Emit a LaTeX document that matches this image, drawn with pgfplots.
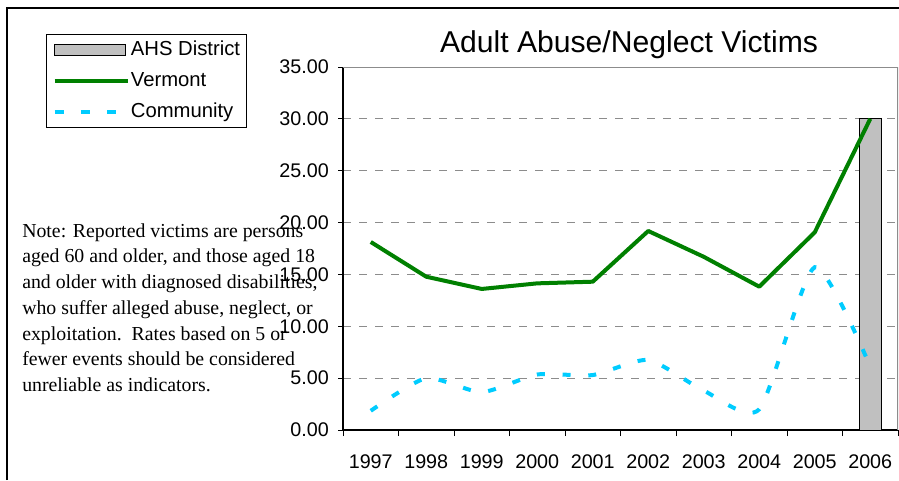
\documentclass[border=0pt]{standalone}
\usepackage{pgfplots}
\pgfplotsset{compat=1.18}
\usepackage{fontspec}
\setmainfont{Liberation Sans}
\newfontfamily\notefont{Liberation Serif}
\definecolor{vtgreen}{RGB}{0,128,0}
\definecolor{commcyan}{RGB}{0,204,255}
\definecolor{barsilver}{RGB}{192,192,192}
\definecolor{gridgray}{RGB}{140,140,140}
\begin{document}
\begin{tikzpicture}[x=0.75pt,y=0.75pt]
\useasboundingbox (0,0) rectangle (899,480);
\draw[line width=1.1pt] (7,0) -- (7,472) -- (899,472);
\begin{axis}[
  at={(257.25pt,37.5pt)}, anchor=south west,
  scale only axis, width=416.25pt, height=272.25pt,
  xmin=-0.5, xmax=9.5, ymin=0, ymax=35,
  axis x line*=bottom, axis y line*=left,
  axis line style={-, line width=1pt, black},
  xtick={0,...,9},
  xticklabels={1997,1998,1999,2000,2001,2002,2003,2004,2005,2006},
  minor xtick={-0.5,0.5,1.5,2.5,3.5,4.5,5.5,6.5,7.5,8.5,9.5},
  major x tick style={draw=none},
  minor x tick style={black, line width=0.75pt},
  minor tick length=4.5pt,
  major tick length=3.75pt,
  tick align=outside,
  ytick={0,5,...,35},
  y tick style={black, line width=0.75pt},
  ymajorgrids,
  major grid style={gridgray, line width=0.75pt, dash pattern=on 6pt off 6pt},
  /pgf/number format/assume math mode=true,
  y tick label style={/pgf/number format/fixed, /pgf/number format/fixed zerofill, /pgf/number format/precision=2, inner sep=0pt, xshift=-6.75pt},
  x tick label style={inner sep=0pt, anchor=north, yshift=-14.25pt},
  tick label style={font=\fontsize{14.8}{17}\selectfont},
  legend style={at={(axis description cs:-0.535,1.0909)}, anchor=north west,
    draw=black, line width=0.75pt, fill=white, inner xsep=4.5pt, inner ysep=5pt,
    font=\fontsize{15.2}{17}\selectfont, row sep=9.75pt,
    nodes={inner sep=0pt, text height=10.5pt, text depth=3pt},
    /tikz/every odd column/.append style={column sep=0.75pt}},
  legend cell align=left,
]
\addplot[ybar, bar width=0.4, bar shift=0pt, fill=barsilver, draw=black, line width=0.75pt,
  legend image code/.code={\draw[black, fill=barsilver, line width=0.75pt] (0pt,-4pt) rectangle (53pt,4pt);}]
  coordinates {(9,30.0)};
\addlegendentry{AHS District}
\addplot[vtgreen, line width=3pt, line join=round, mark=none,
  legend image code/.code={\draw[vtgreen, line width=3pt] (0pt,0pt) -- (55pt,0pt);}]
  coordinates {(0,18.13) (1,14.78) (2,13.6) (3,14.14) (4,14.3) (5,19.19) (6,16.7) (7,13.82) (8,19.06) (9,30.0)};
\addlegendentry{Vermont}
\addplot[commcyan, line width=3pt, smooth, tension=0.38, mark=none, dash pattern=on 6pt off 13.3pt,
  legend image code/.code={\draw[commcyan, line width=3pt, dash pattern=on 6.75pt off 13pt] (0pt,0pt) -- (55pt,0pt);}]
  coordinates {(0,1.85) (1,5.0) (2,3.65) (3,5.35) (4,5.3) (5,6.75) (6,3.8) (7,2.0) (8,15.7) (9,6.1)};
\addlegendentry{Community}
\draw[gridgray, line width=1pt] (rel axis cs:0,1) -- (rel axis cs:1,1) -- (rel axis cs:1,0);
\end{axis}
\node[anchor=base, font=\fontsize{22.6}{27}\selectfont] at (471.75pt,321pt) {Adult Abuse/Neglect Victims};
\node[anchor=north west, inner sep=0pt, align=left, font=\notefont\fontsize{14.85}{19.3}\selectfont] at (16.5pt,192.6pt)
 {Note: Reported victims are persons\\
  aged 60 and older, and those aged 18\\
  and older with diagnosed disabilities,\\
  who suffer alleged abuse, neglect, or\\
  exploitation.\ \ Rates based on 5 or\\
  fewer events should be considered\\
  unreliable as indicators.};
\end{tikzpicture}
\end{document}
